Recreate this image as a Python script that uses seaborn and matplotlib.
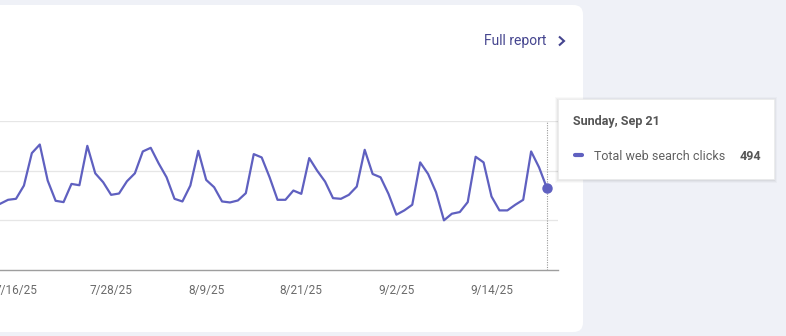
import numpy as np
import pandas as pd
import matplotlib
matplotlib.use("Agg")
import matplotlib.pyplot as plt
from matplotlib.patches import FancyBboxPatch
import seaborn as sns

# Daily total web search clicks, 2025-07-14 .. 2025-09-21
start_date = "2025-07-14"
clicks = [
    400, 424, 430, 510, 706, 758, 540, 418, 410, 520,
    512, 750, 584, 530, 454, 462, 536, 584, 716, 738,
    644, 560, 430, 414, 510, 720, 544, 500, 414, 408,
    420, 464, 700, 680, 560, 424, 424, 480, 460, 676,
    600, 534, 434, 430, 454, 504, 726, 580, 560, 460,
    334, 360, 394, 650, 580, 470, 300, 340, 350, 410,
    684, 650, 444, 360, 360, 394, 424, 716, 620, 494,
]
tick_dates = ["2025-07-16", "2025-07-28", "2025-08-09",
              "2025-08-21", "2025-09-02", "2025-09-14"]
tick_labels = ["7/16/25", "7/28/25", "8/9/25", "8/21/25", "9/2/25", "9/14/25"]
grid_values = [300, 600, 900]
hover_label = "Sunday, Sep 21"
series_name = "Total web search clicks"

dates = pd.date_range(start_date, periods=len(clicks), freq="D")
df = pd.DataFrame({"date": dates, "clicks": clicks})

W, H = 786, 336
LINE = "#5f60c0"
PAGE = "#eff1f7"
LINK = "#45458f"

fig = plt.figure(figsize=(W / 100, H / 100), dpi=100, facecolor=PAGE)


def fx(x):
    return x / W


def fy(y):
    return 1 - y / H


# white card behind the chart
card = FancyBboxPatch((fx(-20), fy(332)), fx(603), fy(5) - fy(332),
                      boxstyle="round,pad=0,rounding_size=0.012",
                      transform=fig.transFigure, facecolor="white",
                      edgecolor="none", mutation_aspect=W / H, zorder=-5)
fig.patches.append(card)

ax_left, ax_right, ax_top, ax_bottom = 0, 558, 121, 270
ax = fig.add_axes([fx(ax_left), fy(ax_bottom), fx(ax_right - ax_left),
                   fy(ax_top) - fy(ax_bottom)])
ax.set_facecolor("none")
ax.set_zorder(1)

sns.lineplot(data=df, x="date", y="clicks", ax=ax, color=LINE,
             linewidth=1.6, legend=False)

# hovered day
last = df.iloc[-1]
ax.axvline(last["date"], color="#9a9a9a", linewidth=0.8, linestyle=(0, (1, 1.2)))
ax.plot([last["date"]], [last["clicks"]], "o", color=LINE, markersize=6.5,
        clip_on=False, zorder=5)

ax.set_ylim(0, 900)
ax.set_yticks(grid_values)
ax.yaxis.grid(True, color="#e6e6e6", linewidth=0.9)
ax.set_axisbelow(True)
ax.tick_params(axis="y", left=False, labelleft=False)

px_per_day = 7.925
x0 = pd.Timestamp(tick_dates[0]) - pd.Timedelta(days=16 / px_per_day)
x1 = pd.Timestamp(tick_dates[0]) + pd.Timedelta(days=(ax_right - 16) / px_per_day)
ax.set_xlim(x0, x1)
ax.set_xticks(pd.to_datetime(tick_dates))
ax.set_xticklabels(tick_labels)
ax.tick_params(axis="x", length=0, pad=10, labelsize=8.5, labelcolor="#6a6a6a")
for lab in ax.get_xticklabels():
    lab.set_fontfamily("Roboto")

for s in ["top", "right", "left"]:
    ax.spines[s].set_visible(False)
ax.spines["bottom"].set_color("#9e9e9e")
ax.spines["bottom"].set_linewidth(1.0)
ax.set_xlabel("")
ax.set_ylabel("")

# "Full report" link with chevron
fig.text(fx(484), fy(41), "Full report", fontsize=10, color=LINK,
         family="Roboto", va="center", ha="left")
fig.add_artist(plt.Line2D([fx(559), fx(564), fx(559)], [fy(36.5), fy(41), fy(45.5)],
                          color=LINK, linewidth=1.5, solid_joinstyle="miter",
                          solid_capstyle="butt", transform=fig.transFigure))

# tooltip with soft shadow, drawn above the chart
tx, ty, tw, th = 558, 99, 216, 80
for off, alpha in [(4, 0.025), (3, 0.03), (2, 0.04), (1, 0.05)]:
    sh = FancyBboxPatch((fx(tx - off + 1), fy(ty + th + off)), fx(tw + 2 * off - 2),
                        fy(ty - off + 2) - fy(ty + th + off),
                        boxstyle="square,pad=0", transform=fig.transFigure,
                        facecolor="black", edgecolor="none", alpha=alpha, zorder=10)
    fig.patches.append(sh)
tip = FancyBboxPatch((fx(tx), fy(ty + th)), fx(tw), fy(ty) - fy(ty + th),
                     boxstyle="square,pad=0", transform=fig.transFigure,
                     facecolor="white", edgecolor="#ececec", linewidth=0.5, zorder=11)
fig.patches.append(tip)

fig.text(fx(573), fy(122), hover_label, fontsize=9, fontweight="bold",
         color="#555555", family="Roboto", va="center", ha="left", zorder=12)
fig.add_artist(plt.Line2D([fx(575), fx(582)], [fy(155), fy(155)],
                          color=LINE, linewidth=3, solid_capstyle="round",
                          transform=fig.transFigure, zorder=12))
fig.text(fx(594), fy(156), series_name, fontsize=9, color="#606060",
         family="Roboto", va="center", ha="left", zorder=12)
fig.text(fx(761), fy(156), f"{int(last['clicks'])}", fontsize=9,
         fontweight="bold", color="#555555", family="Roboto",
         va="center", ha="right", zorder=12)

fig.savefig("out.png", dpi=100, facecolor=PAGE)
